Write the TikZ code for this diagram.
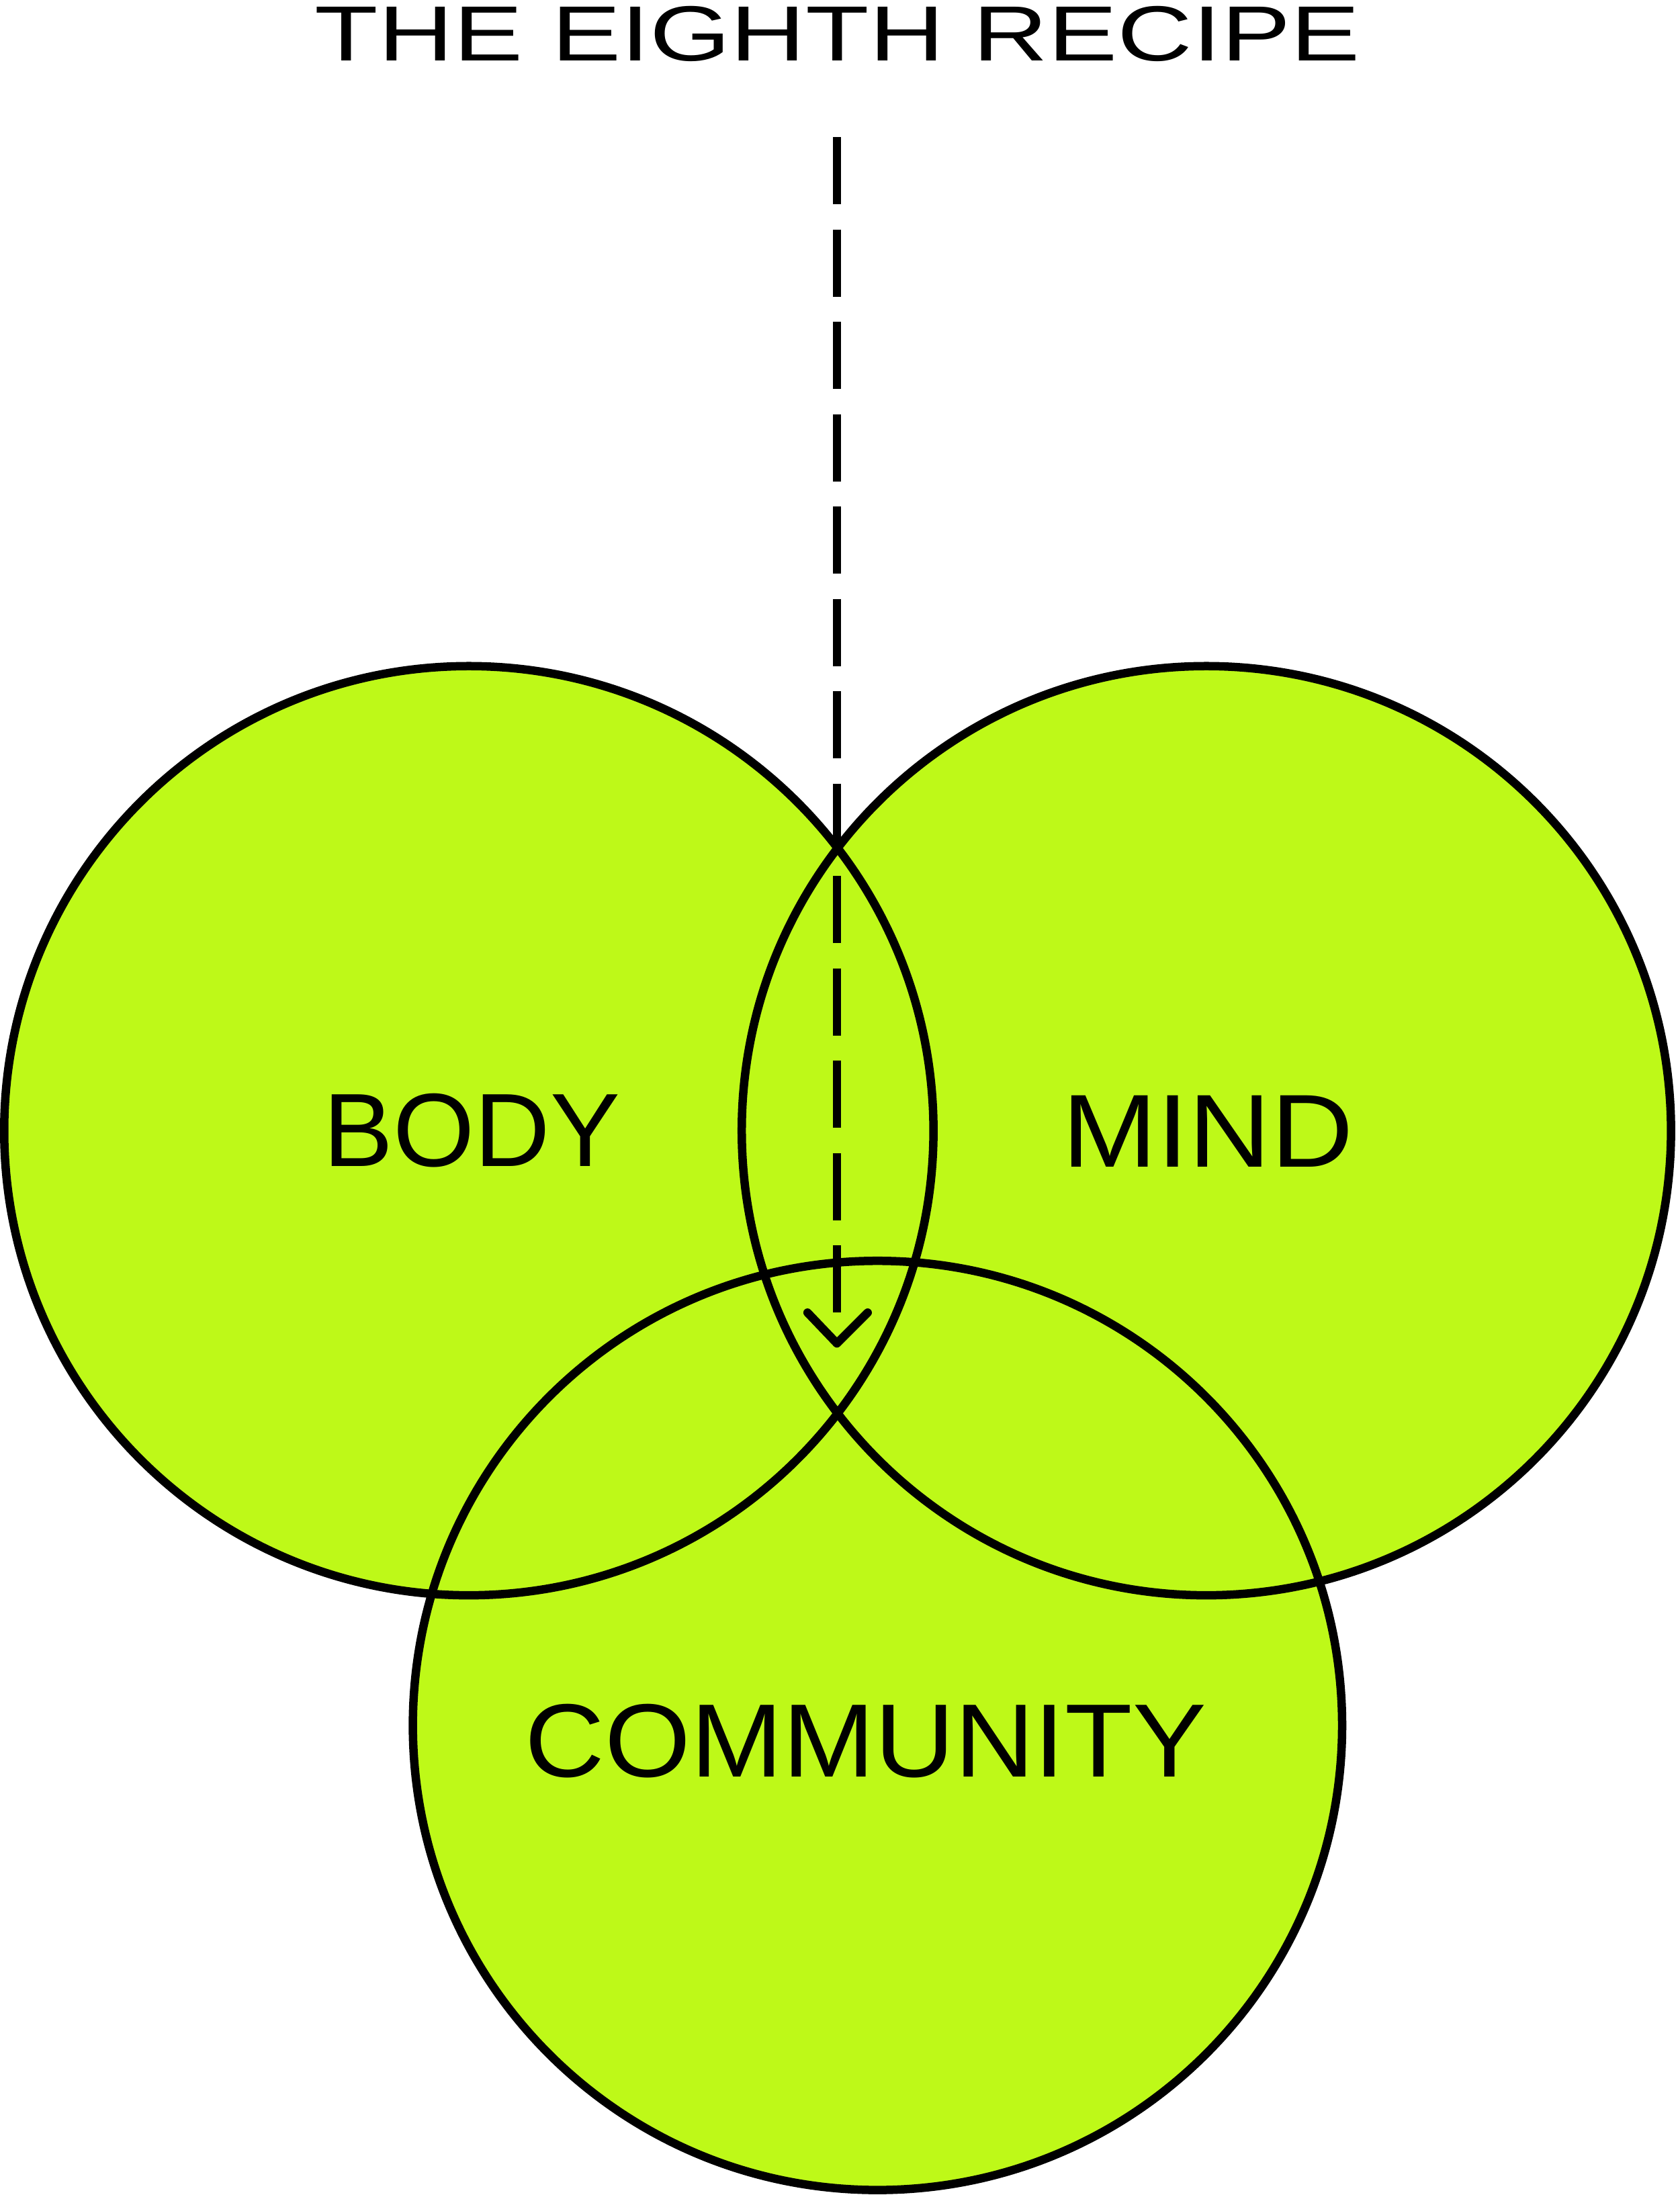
\documentclass[tikz,border=0pt]{standalone}
\usepackage{fontspec}
\setmainfont{Liberation Sans}
\usepackage{graphicx}
\definecolor{lime}{HTML}{BEF918}
\begin{document}
\begin{tikzpicture}[x=0.5pt,y=-0.5pt,
  circ/.style={line width=3pt,draw=black},
  lbl/.style={inner sep=0pt,anchor=center}]
\useasboundingbox (0,0) rectangle (1200,1570);
\coordinate (cb) at (335,808);
\coordinate (cm) at (862,808);
\coordinate (cc) at (627,1233);
\fill[lime] (cb) circle (332) (cm) circle (332) (cc) circle (332);
\draw[circ] (cb) circle (332);
\draw[circ] (cm) circle (332);
\draw[circ] (cc) circle (332);
\node[lbl] (title) at (598.5,24) {\resizebox{373.5pt}{19.5pt}{THE EIGHTH RECIPE}};
\node[lbl] (body) at (337,808) {\resizebox{106pt}{26pt}{BODY}};
\node[lbl] (mind) at (863,808.5) {\resizebox{104pt}{25.5pt}{MIND}};
\node[lbl] (comm) at (618.5,1244) {\resizebox{243.5pt}{26pt}{COMMUNITY}};
\coordinate (s) at (598,98);
\coordinate (e) at (598,960);
\draw[line width=3pt,dash pattern=on 24pt off 9pt] (s) -- (598,955);
\draw[line width=3pt,line cap=round,line join=round] (577,938) -- (e) -- (620,938);
\end{tikzpicture}
\end{document}
